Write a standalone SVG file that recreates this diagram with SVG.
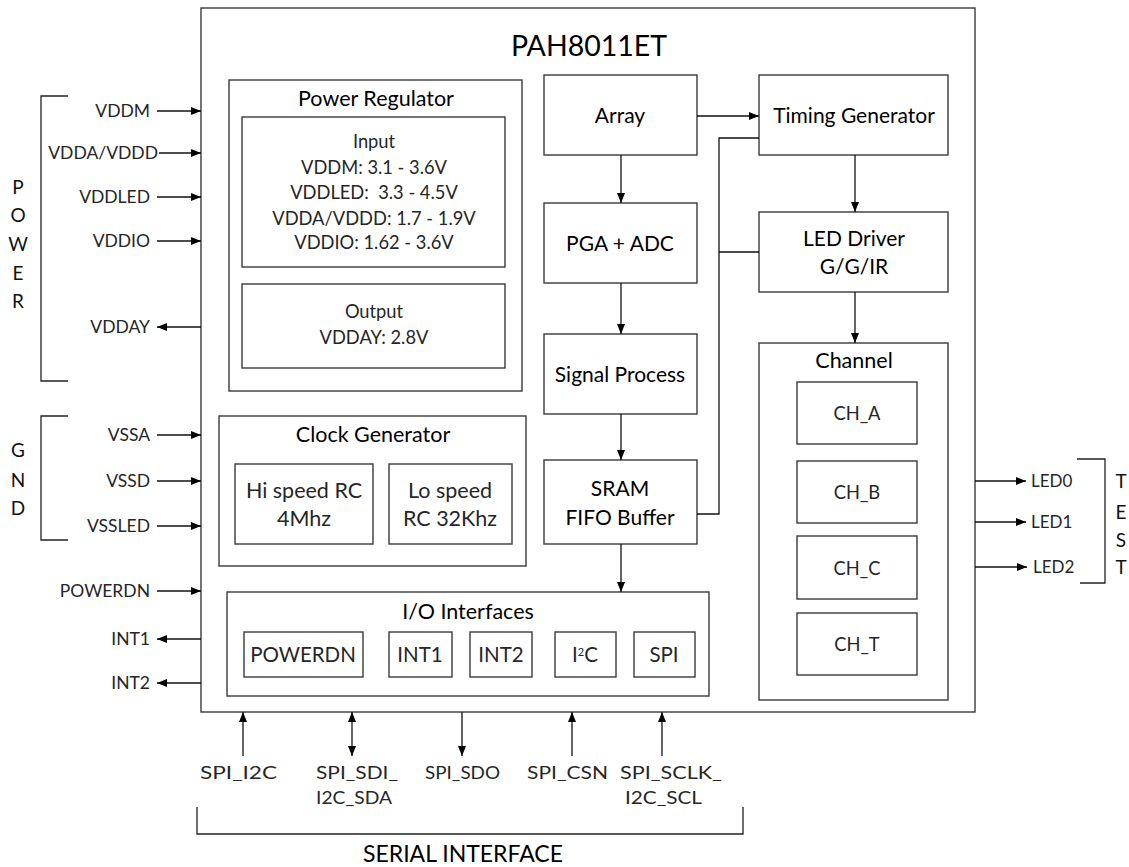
<svg xmlns="http://www.w3.org/2000/svg" width="1129" height="867" viewBox="0 0 1129 867">
<style>
.box{fill:#fff;stroke:#3a3a3a;stroke-width:1.4}
.ln{fill:none;stroke:#111;stroke-width:1.3}
.br{fill:none;stroke:#222;stroke-width:1.3}
text{font-family:Lato,"Open Sans","Liberation Sans",sans-serif;fill:#262626}
.t{font-size:21.5px;font-weight:400;text-anchor:middle;fill:#000}
.l{font-size:18.3px;font-weight:400;text-anchor:middle}
.c{font-size:21.5px;font-weight:400;text-anchor:middle}
.io{font-size:20.5px;font-weight:400;text-anchor:middle}
.p{font-size:17px;font-weight:400}
.pr{font-size:17.5px;font-weight:400;text-anchor:end}
.pc{font-size:18px;font-weight:400;text-anchor:start}
.big{font-size:21px;font-weight:400;text-anchor:middle;fill:#000}
.g{font-size:19px;text-anchor:middle;fill:#111}
</style>
<defs>
<marker id="ah" viewBox="0 0 10 8" refX="10" refY="4" markerWidth="11" markerHeight="8" markerUnits="userSpaceOnUse" orient="auto-start-reverse">
<path d="M0,0 L10,4 L0,8 z" fill="#000"/>
</marker>
</defs>

<g id="chip">
<rect class="box" x="201" y="8" width="774" height="704"/>
<text x="589" y="56" style="font-size:28.5px;font-weight:400;text-anchor:middle;fill:#000">PAH8011ET</text>
</g>

<g id="power-regulator">
<rect class="box" x="229" y="80" width="293" height="311"/>
<text class="t" x="376" y="106">Power Regulator</text>
<rect class="box" x="242" y="117" width="263" height="150"/>
<text class="l" x="374" y="148">Input</text>
<text class="l" x="374" y="174">VDDM: 3.1 - 3.6V</text>
<text class="l" x="374" y="199" xml:space="preserve">VDDLED:  3.3 - 4.5V</text>
<text class="l" x="374" y="225">VDDA/VDDD: 1.7 - 1.9V</text>
<text class="l" x="374" y="249">VDDIO: 1.62 - 3.6V</text>
<rect class="box" x="242" y="284" width="263" height="84"/>
<text class="l" x="374" y="318">Output</text>
<text class="l" x="374" y="344">VDDAY: 2.8V</text>
</g>

<g id="clock-generator">
<rect class="box" x="219" y="416" width="307" height="150"/>
<text class="t" x="373" y="442">Clock Generator</text>
<rect class="box" x="235" y="464" width="138" height="80"/>
<text class="c" x="304" y="498">Hi speed RC</text>
<text class="c" x="304" y="526">4Mhz</text>
<rect class="box" x="389" y="464" width="123" height="80"/>
<text class="c" x="450" y="498">Lo speed</text>
<text class="c" x="450" y="526">RC 32Khz</text>
</g>

<g id="io-interfaces">
<rect class="box" x="227" y="592" width="482" height="104"/>
<text class="t" x="468" y="619">I/O Interfaces</text>
<rect class="box" x="244" y="632" width="119" height="45"/>
<text class="io" x="303" y="662">POWERDN</text>
<rect class="box" x="389" y="632" width="63" height="45"/>
<text class="io" x="420" y="662">INT1</text>
<rect class="box" x="470" y="632" width="62" height="45"/>
<text class="io" x="501" y="662">INT2</text>
<rect class="box" x="555" y="632" width="61" height="45"/>
<text class="io" x="585" y="662">I<tspan baseline-shift="super" font-size="11">2</tspan>C</text>
<rect class="box" x="634" y="632" width="61" height="45"/>
<text class="io" x="664" y="662">SPI</text>
</g>

<g id="array"><rect class="box" x="544" y="75" width="153" height="80"/><text class="big" x="620" y="123">Array</text></g>
<g id="pga-adc"><rect class="box" x="544" y="203" width="153" height="80"/><text class="big" x="620" y="251">PGA + ADC</text></g>
<g id="signal-process"><rect class="box" x="544" y="334" width="153" height="80"/><text class="big" x="620" y="382">Signal Process</text></g>
<g id="sram"><rect class="box" x="544" y="460" width="153" height="84"/><text class="big" x="620" y="496">SRAM</text><text class="big" x="620" y="525">FIFO Buffer</text></g>
<g id="timing-generator"><rect class="box" x="759" y="75" width="189" height="80"/><text class="big" x="854" y="123">Timing Generator</text></g>
<g id="led-driver"><rect class="box" x="759" y="212" width="189" height="80"/><text class="big" x="854" y="246">LED Driver</text><text class="big" x="854" y="274">G/G/IR</text></g>

<g id="channel">
<rect class="box" x="759" y="343" width="189" height="357"/>
<text class="t" x="854" y="368">Channel</text>
<rect class="box" x="797" y="382" width="120" height="62"/><text class="l" x="857" y="420">CH_A</text>
<rect class="box" x="797" y="461" width="120" height="62"/><text class="l" x="857" y="499">CH_B</text>
<rect class="box" x="797" y="536" width="120" height="63"/><text class="l" x="857" y="575">CH_C</text>
<rect class="box" x="797" y="613" width="120" height="62"/><text class="l" x="857" y="651">CH_T</text>
</g>

<g id="power-group">
<path class="br" d="M68,96 H41 V381 H68"/>
<text class="g" x="18" y="194">P</text>
<text class="g" x="18" y="222">O</text>
<text class="g" x="18" y="251">W</text>
<text class="g" x="18" y="280">E</text>
<text class="g" x="18" y="308">R</text>
<text class="pr" x="150" y="117">VDDM</text>
<text class="pr" x="158" y="159">VDDA/VDDD</text>
<text class="pr" x="150" y="203">VDDLED</text>
<text class="pr" x="150" y="247">VDDIO</text>
<text class="pr" x="150" y="333">VDDAY</text>
</g>

<g id="gnd-group">
<path class="br" d="M68,416 H41 V540 H68"/>
<text class="g" x="18" y="457">G</text>
<text class="g" x="18" y="487">N</text>
<text class="g" x="18" y="515">D</text>
<text class="pr" x="150" y="441">VSSA</text>
<text class="pr" x="150" y="487">VSSD</text>
<text class="pr" x="150" y="532">VSSLED</text>
</g>

<g id="misc-pins">
<text class="pr" x="150" y="597">POWERDN</text>
<text class="pr" x="150" y="645">INT1</text>
<text class="pr" x="150" y="689">INT2</text>
</g>

<g id="test-group">
<text class="p" x="1031" y="487">LED0</text>
<text class="p" x="1031" y="528">LED1</text>
<text class="p" x="1033" y="573">LED2</text>
<path class="br" d="M1077,459 H1105 V583 H1080"/>
<text class="g" x="1121" y="488">T</text>
<text class="g" x="1121" y="519">E</text>
<text class="g" x="1121" y="547">S</text>
<text class="g" x="1121" y="574">T</text>
</g>

<g id="serial-group">
<text class="pc" x="200" y="779" textLength="77" lengthAdjust="spacingAndGlyphs">SPI_I2C</text>
<text class="pc" x="316" y="779" textLength="82" lengthAdjust="spacingAndGlyphs">SPI_SDI_</text>
<text class="pc" x="316" y="804" textLength="76" lengthAdjust="spacingAndGlyphs">I2C_SDA</text>
<text class="pc" x="425" y="779" textLength="75" lengthAdjust="spacingAndGlyphs">SPI_SDO</text>
<text class="pc" x="527" y="779" textLength="81" lengthAdjust="spacingAndGlyphs">SPI_CSN</text>
<text class="pc" x="620" y="779" textLength="102" lengthAdjust="spacingAndGlyphs">SPI_SCLK_</text>
<text class="pc" x="625" y="804" textLength="77" lengthAdjust="spacingAndGlyphs">I2C_SCL</text>
<path class="br" d="M197,807 V834 H743 V807"/>
<text x="363" y="862" style="font-size:23.5px;fill:#000" textLength="200" lengthAdjust="spacingAndGlyphs">SERIAL INTERFACE</text>
</g>

<g id="connectors">
<line class="ln" x1="157" y1="111" x2="201" y2="111" marker-end="url(#ah)"/>
<line class="ln" x1="159" y1="153" x2="201" y2="153" marker-end="url(#ah)"/>
<line class="ln" x1="157" y1="197" x2="201" y2="197" marker-end="url(#ah)"/>
<line class="ln" x1="157" y1="241" x2="201" y2="241" marker-end="url(#ah)"/>
<line class="ln" x1="201" y1="327" x2="157" y2="327" marker-end="url(#ah)"/>
<line class="ln" x1="157" y1="435" x2="201" y2="435" marker-end="url(#ah)"/>
<line class="ln" x1="157" y1="481" x2="201" y2="481" marker-end="url(#ah)"/>
<line class="ln" x1="157" y1="526" x2="201" y2="526" marker-end="url(#ah)"/>
<line class="ln" x1="157" y1="591" x2="201" y2="591" marker-end="url(#ah)"/>
<line class="ln" x1="201" y1="639" x2="157" y2="639" marker-end="url(#ah)"/>
<line class="ln" x1="201" y1="683" x2="157" y2="683" marker-end="url(#ah)"/>
<line class="ln" x1="975" y1="481" x2="1026" y2="481" marker-end="url(#ah)"/>
<line class="ln" x1="975" y1="522" x2="1026" y2="522" marker-end="url(#ah)"/>
<line class="ln" x1="975" y1="567" x2="1027" y2="567" marker-end="url(#ah)"/>
<line class="ln" x1="243" y1="756" x2="243" y2="712" marker-end="url(#ah)"/>
<line class="ln" x1="352" y1="756" x2="352" y2="712" marker-start="url(#ah)" marker-end="url(#ah)"/>
<line class="ln" x1="462" y1="712" x2="462" y2="756" marker-end="url(#ah)"/>
<line class="ln" x1="572" y1="756" x2="572" y2="712" marker-end="url(#ah)"/>
<line class="ln" x1="662" y1="756" x2="662" y2="712" marker-end="url(#ah)"/>
<line class="ln" x1="697" y1="116" x2="759" y2="116" marker-end="url(#ah)"/>
<line class="ln" x1="621" y1="155" x2="621" y2="203" marker-end="url(#ah)"/>
<line class="ln" x1="621" y1="283" x2="621" y2="334" marker-end="url(#ah)"/>
<line class="ln" x1="621" y1="414" x2="621" y2="460" marker-end="url(#ah)"/>
<line class="ln" x1="621" y1="544" x2="621" y2="592" marker-end="url(#ah)"/>
<line class="ln" x1="855" y1="155" x2="855" y2="212" marker-end="url(#ah)"/>
<line class="ln" x1="855" y1="292" x2="855" y2="343" marker-end="url(#ah)"/>
<polyline class="ln" points="759,138 719,138 719,514 697,514"/>
<line class="ln" x1="719" y1="252" x2="759" y2="252"/>
</g>
</svg>
